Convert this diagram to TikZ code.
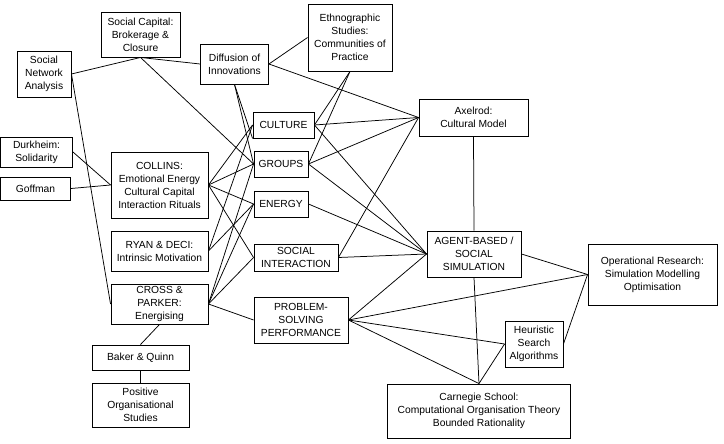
\documentclass[tikz,border=0pt]{standalone}
\usepackage{fontspec}
\setmainfont{Liberation Sans}
\begin{document}
\begin{tikzpicture}[x=1pt,y=-1pt,
  box/.style={draw, line width=0.9pt, fill=white, inner sep=0pt, align=center,
    font=\fontsize{10.3}{13}\selectfont},
  link/.style={line width=0.75pt}]
\useasboundingbox[fill=white] (0,0) rectangle (724,444);
% nodes
\node[box, minimum width=54pt, minimum height=46pt] (sna) at (44,74) {Social\\Network\\Analysis};
\node[box, minimum width=79pt, minimum height=45pt] (soccap) at (140.5,34.5) {Social Capital:\\Brokerage \&\\Closure};
\node[box, minimum width=68pt, minimum height=40pt] (diff) at (234.5,64) {Diffusion of\\Innovations};
\node[box, minimum width=84pt, minimum height=67pt] (ethno) at (350,37.5) {Ethnographic\\Studies:\\Communities of\\Practice};
\node[box, minimum width=109pt, minimum height=37pt] (axel) at (473.5,117.5) {Axelrod:\\Cultural Model};
\node[box, minimum width=61pt, minimum height=26pt] (culture) at (283.5,125) {CULTURE};
\node[box, minimum width=54pt, minimum height=26pt] (groups) at (281,164) {GROUPS};
\node[box, minimum width=54pt, minimum height=26pt] (energy) at (281,204) {ENERGY};
\node[box, minimum width=84pt, minimum height=27pt] (social) at (296,257.5) {SOCIAL\\INTERACTION};
\node[box, minimum width=94pt, minimum height=46pt] (problem) at (301,320) {PROBLEM-\\SOLVING\\PERFORMANCE};
\node[box, minimum width=94pt, minimum height=46pt] (agent) at (474,254) {AGENT-BASED /\\SOCIAL\\SIMULATION};
\node[box, minimum width=129pt, minimum height=61pt] (opres) at (652.5,274.5) {Operational Research:\\Simulation Modelling\\Optimisation};
\node[box, minimum width=58pt, minimum height=46pt] (heur) at (534,344) {Heuristic\\Search\\Algorithms};
\node[box, minimum width=183pt, minimum height=54pt] (carn) at (479,411) {Carnegie School:\\Computational Organisation Theory\\Bounded Rationality};
\node[box, minimum width=72pt, minimum height=30pt] (durk) at (36.5,152) {Durkheim:\\Solidarity};
\node[box, minimum width=70pt, minimum height=23pt] (goff) at (35.5,188.5) {Goffman};
\node[box, minimum width=97pt, minimum height=66pt] (collins) at (159.5,185) {COLLINS:\\Emotional Energy\\Cultural Capital\\Interaction Rituals};
\node[box, minimum width=97pt, minimum height=40pt] (ryan) at (159.5,251) {RYAN \& DECI:\\Intrinsic Motivation};
\node[box, minimum width=97pt, minimum height=40pt] (cross) at (159.5,304) {CROSS \&\\PARKER:\\Energising};
\node[box, minimum width=97pt, minimum height=25pt] (baker) at (140.5,357.5) {Baker \& Quinn};
\node[box, minimum width=97pt, minimum height=44pt] (posorg) at (140.5,405) {Positive\\Organisational\\Studies};
% connectors
\draw[link] (sna.east) -- (soccap.south);
\draw[link] (soccap.south) -- (diff.west);
\draw[link] (soccap.south) -- (groups.west);
\draw[link] (sna.east) -- (cross.west);
\draw[link] (diff.east) -- (ethno.west);
\draw[link] (diff.east) -- (axel.west);
\draw[link] (diff.south) -- (culture.south west);
\draw[link] (diff.south) -- (groups.west);
\draw[link] (durk.east) -- (collins.west);
\draw[link] (goff.east) -- (collins.west);
\draw[link] (collins.east) -- (culture.west);
\draw[link] (collins.east) -- (groups.west);
\draw[link] (collins.east) -- (energy.west);
\draw[link] (collins.east) -- (social.west);
\draw[link] (ryan.east) -- (culture.west);
\draw[link] (ryan.east) -- (energy.west);
\draw[link] (cross.east) -- (groups.west);
\draw[link] (cross.east) -- (energy.west);
\draw[link] (cross.east) -- (social.west);
\draw[link] (cross.east) -- (problem.west);
\draw[link] (cross.south) -- (baker.north);
\draw[link] (baker.south) -- (posorg.north);
\draw[link] (ethno.south) -- (culture.east);
\draw[link] (ethno.south) -- (groups.east);
\draw[link] (culture.east) -- (axel.west);
\draw[link] (culture.east) -- (agent.west);
\draw[link] (groups.east) -- (axel.west);
\draw[link] (groups.east) -- (agent.west);
\draw[link] (energy.east) -- (agent.west);
\draw[link] (social.east) -- (agent.west);
\draw[link] (social.east) -- (axel.west);
\draw[link] (axel.south) -- (agent.north);
\draw[link] (problem.east) -- (agent.west);
\draw[link] (problem.east) -- (opres.west);
\draw[link] (problem.east) -- (heur.west);
\draw[link] (problem.east) -- (carn.north);
\draw[link] (agent.east) -- (opres.west);
\draw[link] (agent.south) -- (carn.north);
\draw[link] (heur.west) -- (carn.north);
\draw[link] (heur.east) -- (opres.west);
\end{tikzpicture}
\end{document}
